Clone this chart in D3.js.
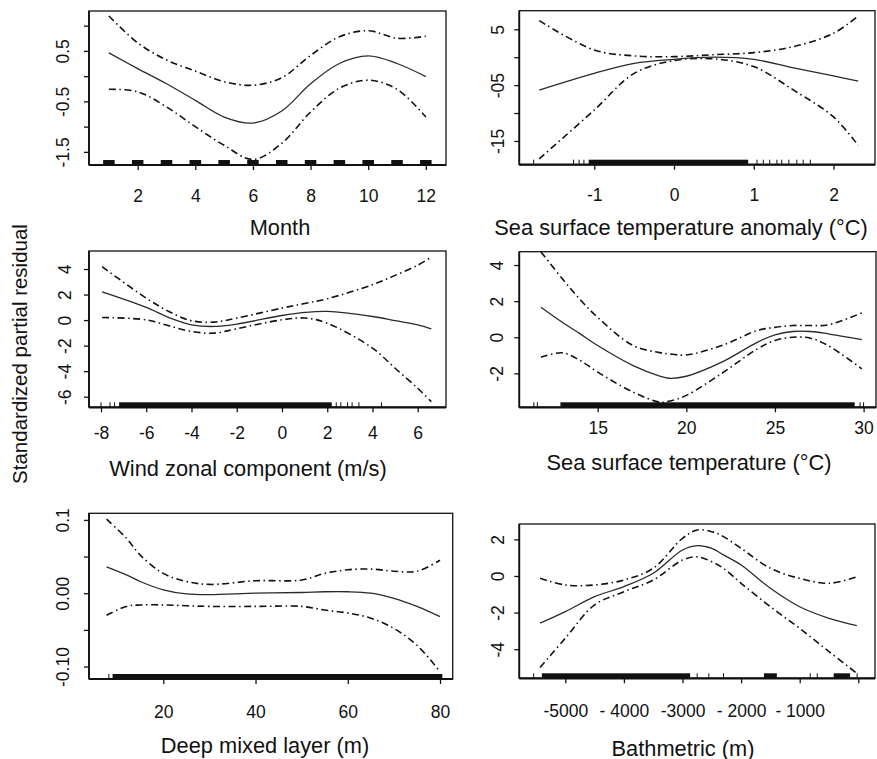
<!DOCTYPE html>
<html>
<head>
<meta charset="utf-8">
<script src="https://cdn.jsdelivr.net/npm/d3@7"></script>
<style>
  html, body { margin: 0; padding: 0; background: #fff; }
  svg { display: block; font-family: "Liberation Sans", Arial, Helvetica, sans-serif; }
</style>
</head>
<body>
<svg id="chart" width="877" height="759"></svg>
<script>
// ---- Month ----
const monthX     = [1, 2, 3, 4, 5, 6, 7, 8, 9, 10, 11, 12];
const monthFit   = [0.46, 0.15, -0.15, -0.48, -0.81, -0.93, -0.69, -0.15, 0.25, 0.40, 0.25, -0.01];
const monthUpper = [1.19, 0.66, 0.32, 0.10, -0.11, -0.18, -0.03, 0.41, 0.78, 0.90, 0.75, 0.79];
const monthLower = [-0.26, -0.31, -0.61, -1.00, -1.37, -1.65, -1.33, -0.71, -0.24, -0.08, -0.26, -0.81];
const monthRugBlocks = [1, 2, 3, 4, 5, 6, 7, 8, 9, 10, 11, 12];
const monthXTicks = [2, 4, 6, 8, 10, 12];
const monthYTicks = [1.0, 0.5, 0.0, -0.5, -1.0, -1.5];
const monthYLabels = { "0.5": "0.5", "-0.5": "-0.5", "-1.5": "-1.5" };

// ---- Sea surface temperature anomaly ----
const sstaX     = [-1.69, -1.0, -0.5, 0, 0.5, 1.0, 1.5, 2.0, 2.31];
const sstaFit   = [-5.88, -2.89, -1.10, -0.38, 0.00, -0.38, -1.90, -3.35, -4.27];
const sstaUpper = [6.54, 1.29, 0.24, 0.10, 0.45, 0.82, 1.90, 4.28, 7.38];
const sstaLower = [-18.2, -9.46, -2.90, -0.60, -0.30, -1.68, -5.90, -10.7, -15.8];
const sstaRugBands = [[-1.07, 0.93]];
const sstaRugTicks = [-1.76, -1.26, -1.19, -1.13, 1.04, 1.12, 1.20, 1.29, 1.35, 1.44, 1.54, 1.62, 1.71];
const sstaXTicks = [-1, 0, 1, 2];
const sstaYTicks = [5, 0, -5, -10, -15];
const sstaYLabels = { "5": "5", "-5": "-05", "-15": "-15" };

// ---- Wind zonal component ----
const windX     = [-7.95, -6, -5, -4, -3, -2, 0, 1, 2, 4, 5, 6, 6.6];
const windFit   = [2.20, 0.99, 0.20, -0.37, -0.50, -0.31, 0.36, 0.60, 0.68, 0.28, -0.05, -0.37, -0.68];
const windUpper = [4.18, 1.72, 0.67, -0.05, -0.16, 0.16, 0.94, 1.30, 1.67, 2.77, 3.50, 4.30, 4.93];
const windLower = [0.20, 0.02, -0.45, -0.89, -1.02, -0.68, 0.02, 0.16, -0.24, -2.20, -3.77, -5.34, -6.39];
const windRugBands = [[-7.2, 2.2]];
const windRugTicks = [-8.0, -7.6, -7.4, 2.4, 2.6, 2.9, 3.1, 3.4, 4.4];
const windXTicks = [-8, -6, -4, -2, 0, 2, 4, 6];
const windYTicks = [4, 2, 0, -2, -4, -6];
const windYLabels = { "4": "4", "2": "2", "0": "0", "-2": "-2", "-4": "-4", "-6": "-6" };

// ---- Sea surface temperature ----
const sstX     = [11.8, 13, 14, 15, 17, 18.5, 19, 20, 22, 24, 25, 26, 27, 28, 29.9];
const sstFit   = [1.66, 0.83, 0.20, -0.46, -1.57, -2.15, -2.27, -2.16, -1.38, -0.28, 0.13, 0.32, 0.32, 0.19, -0.13];
const sstUpper = [4.73, 3.25, 2.10, 1.10, -0.46, -0.85, -0.92, -0.98, -0.46, 0.37, 0.55, 0.65, 0.65, 0.69, 1.35];
const sstLower = [-1.11, -0.86, -1.28, -1.93, -3.04, -3.60, -3.55, -3.22, -2.00, -0.65, -0.18, 0.00, -0.05, -0.46, -1.75];
const sstRugBands = [[12.9, 29.5]];
const sstRugTicks = [11.4, 11.6, 29.8, 30.0];
const sstXTicks = [15, 20, 25, 30];
const sstYTicks = [4, 2, 0, -2];
const sstYLabels = { "4": "4", "2": "2", "0": "0", "-2": "-2" };

// ---- Deep mixed layer ----
const mldX     = [7.7, 12, 15, 20, 25, 30, 40, 50, 55, 60, 65, 70, 75, 80];
const mldFit   = [0.036, 0.025, 0.016, 0.0045, -0.001, -0.002, 0.000, 0.001, 0.002, 0.002, 0.000, -0.007, -0.018, -0.032];
const mldUpper = [0.101, 0.075, 0.052, 0.027, 0.016, 0.012, 0.017, 0.018, 0.027, 0.032, 0.033, 0.030, 0.030, 0.045];
const mldLower = [-0.030, -0.018, -0.016, -0.016, -0.017, -0.018, -0.018, -0.018, -0.023, -0.027, -0.034, -0.048, -0.071, -0.107];
const mldRugBands = [[9, 80.5]];
const mldRugTicks = [8.2];
const mldXTicks = [20, 40, 60, 80];
const mldYTicks = [0.1, 0.05, 0, -0.05, -0.1];
const mldYLabels = { "0.1": "0.1", "0": "0.00", "-0.1": "-0.10" };

// ---- Bathymetry ----
const bathX     = [-5430, -5000, -4500, -4000, -3500, -3000, -2750, -2500, -2300, -2000, -1500, -1000, -500, -25];
const bathFit   = [-2.58, -1.95, -1.13, -0.58, 0.15, 1.42, 1.66, 1.51, 1.15, 0.60, -0.67, -1.68, -2.31, -2.71];
const bathUpper = [-0.13, -0.49, -0.49, -0.22, 0.42, 2.06, 2.51, 2.42, 2.15, 1.51, 0.42, -0.13, -0.40, -0.04];
const bathLower = [-5.00, -3.40, -1.58, -0.86, -0.22, 0.87, 1.05, 0.78, 0.42, -0.40, -1.68, -2.86, -4.13, -5.32];
const bathRugBands = [[-5400, -2870], [-1610, -1390], [-420, -140]];
const bathRugTicks = [-5540, -2750, -2550, -2300, -820, -700, -20];
const bathXTicks = [-5000, -4000, -3000, -2000, -1000, 0];
const bathXLabels = { "-5000": "-5000", "-4000": "- 4000", "-3000": "-3000", "-2000": "- 2000", "-1000": "- 1000", "0": "" };
const bathYTicks = [2, 0, -2, -4];
const bathYLabels = { "2": "2", "0": "0", "-2": "-2", "-4": "-4" };

const yTitle = "Standardized partial residual";

// Panel layout: plot box, axis domains, label offsets
const panels = [
  { box: [89, 11, 446, 165], xDom: [0.31, 12.70], yDom: [-1.76, 1.29],
    x: monthX, fit: monthFit, up: monthUpper, lo: monthLower,
    rugBlocks: monthRugBlocks, blockHalf: 0.2, rugBands: [], rugTicks: [],
    xTicks: monthXTicks, xLab: d => String(d), yTicks: monthYTicks, yLab: monthYLabels,
    xLabOff: 31, yLabOff: 26, title: "Month", titleX: 280, titleY: 227 },
  { box: [519.3, 10.7, 875, 164.7], xDom: [-1.94, 2.52], yDom: [-19.25, 8.33],
    x: sstaX, fit: sstaFit, up: sstaUpper, lo: sstaLower,
    rugBlocks: [], rugBands: sstaRugBands, rugTicks: sstaRugTicks,
    xTicks: sstaXTicks, xLab: d => String(d), yTicks: sstaYTicks, yLab: sstaYLabels,
    xLabOff: 30, yLabOff: 21, title: "Sea surface temperature anomaly (°C)", titleX: 681, titleY: 227 },
  { box: [89, 251, 446, 407.3], xDom: [-8.53, 7.25], yDom: [-6.83, 5.41],
    x: windX, fit: windFit, up: windUpper, lo: windLower,
    rugBlocks: [], rugBands: windRugBands, rugTicks: windRugTicks,
    xTicks: windXTicks, xLab: d => String(d), yTicks: windYTicks, yLab: windYLabels,
    xLabOff: 26, yLabOff: 24, title: "Wind zonal component (m/s)", titleX: 248, titleY: 468 },
  { box: [519.3, 251.7, 876, 407.3], xDom: [10.58, 30.7], yDom: [-3.88, 4.74],
    x: sstX, fit: sstFit, up: sstUpper, lo: sstLower,
    rugBlocks: [], rugBands: sstRugBands, rugTicks: sstRugTicks,
    xTicks: sstXTicks, xLab: d => String(d), yTicks: sstYTicks, yLab: sstYLabels,
    xLabOff: 21, yLabOff: 22, title: "Sea surface temperature (°C)", titleX: 689, titleY: 462 },
  { box: [89, 513.3, 452.7, 679], xDom: [3.89, 82.75], yDom: [-0.117, 0.109],
    x: mldX, fit: mldFit, up: mldUpper, lo: mldLower,
    rugBlocks: [], rugBands: mldRugBands, rugTicks: mldRugTicks,
    xTicks: mldXTicks, xLab: d => String(d), yTicks: mldYTicks, yLab: mldYLabels,
    xLabOff: 33, yLabOff: 26, title: "Deep mixed layer (m)", titleX: 265, titleY: 745 },
  { box: [519.3, 524, 875, 678.3], xDom: [-5785, 285], yDom: [-5.59, 2.84],
    x: bathX, fit: bathFit, up: bathUpper, lo: bathLower,
    rugBlocks: [], rugBands: bathRugBands, rugTicks: bathRugTicks,
    xTicks: bathXTicks, xLab: d => bathXLabels[String(d)], yTicks: bathYTicks, yLab: bathYLabels,
    xLabOff: 33, yLabOff: 21, title: "Bathmetric (m)", titleX: 683, titleY: 748 }
];

const svg = d3.select("#chart");
const ink = "#111";
const tickFont = 17.5, titleFont = 21.8;

panels.forEach((p, i) => {
  const [x0, y0, x1, y1] = p.box;
  const xs = d3.scaleLinear().domain(p.xDom).range([x0, x1]);
  const ys = d3.scaleLinear().domain(p.yDom).range([y1, y0]);
  const g = svg.append("g").attr("class", "panel-" + i);

  const clipId = "clip" + i;
  svg.append("clipPath").attr("id", clipId)
    .append("rect").attr("x", x0).attr("y", y0).attr("width", x1 - x0).attr("height", y1 - y0);

  // frame
  g.append("rect").attr("x", x0).attr("y", y0).attr("width", x1 - x0).attr("height", y1 - y0)
    .attr("fill", "none").attr("stroke", ink).attr("stroke-width", 1.3);

  // rug along the bottom axis
  const rug = g.append("g").attr("fill", ink).attr("stroke", ink);
  p.rugBlocks.forEach(m => {
    rug.append("rect")
      .attr("x", xs(m - p.blockHalf)).attr("y", y1 - 5)
      .attr("width", xs(m + p.blockHalf) - xs(m - p.blockHalf)).attr("height", 5)
      .attr("stroke", "none");
  });
  p.rugBands.forEach(([a, b]) => {
    rug.append("rect")
      .attr("x", xs(a)).attr("y", y1 - 5)
      .attr("width", xs(b) - xs(a)).attr("height", 5).attr("stroke", "none");
  });
  p.rugTicks.forEach(v => {
    rug.append("line").attr("x1", xs(v)).attr("x2", xs(v))
      .attr("y1", y1).attr("y2", y1 - 5).attr("stroke-width", 1);
  });

  // bottom axis
  const xAxis = d3.axisBottom(xs).tickValues(p.xTicks).tickFormat(p.xLab)
    .tickSizeInner(5).tickSizeOuter(0).tickPadding(p.xLabOff - 11.3);
  const gx = g.append("g").attr("transform", `translate(0,${y1})`).call(xAxis);
  gx.select(".domain").remove();
  gx.selectAll(".tick line").attr("stroke", ink).attr("stroke-width", 1.3);
  gx.selectAll(".tick text").attr("fill", ink).attr("font-size", tickFont)
    .attr("font-family", "Liberation Sans, Arial, sans-serif");
  g.append("line").attr("x1", x0).attr("x2", x1).attr("y1", y1).attr("y2", y1)
    .attr("stroke", ink).attr("stroke-width", 2.2);

  // left axis with rotated labels
  const yAxis = d3.axisLeft(ys).tickValues(p.yTicks).tickFormat(d => p.yLab[String(d)] || "")
    .tickSizeInner(5).tickSizeOuter(0);
  const gy = g.append("g").attr("transform", `translate(${x0},0)`).call(yAxis);
  gy.select(".domain").remove();
  gy.selectAll(".tick line").attr("stroke", ink).attr("stroke-width", 1.3);
  gy.selectAll(".tick text")
    .attr("x", null).attr("dy", null)
    .attr("transform", `translate(${-p.yLabOff},0) rotate(-90)`)
    .attr("text-anchor", "middle").attr("dominant-baseline", "central")
    .attr("fill", ink).attr("font-size", tickFont)
    .attr("font-family", "Liberation Sans, Arial, sans-serif");
  g.append("line").attr("x1", x0).attr("x2", x0).attr("y1", y0).attr("y2", y1)
    .attr("stroke", ink).attr("stroke-width", 1.8);

  // smooth term and its confidence band
  const curves = g.append("g").attr("clip-path", `url(#${clipId})`).attr("fill", "none");
  const line = ys2 => d3.line().x((d, k) => xs(p.x[k])).y(d => ys(d)).curve(d3.curveCatmullRom.alpha(0.5))(ys2);
  curves.append("path").attr("d", line(p.up))
    .attr("stroke", ink).attr("stroke-width", 1.6).attr("stroke-dasharray", "7,3.5,1.5,3.5");
  curves.append("path").attr("d", line(p.lo))
    .attr("stroke", ink).attr("stroke-width", 1.6).attr("stroke-dasharray", "7,3.5,1.5,3.5");
  curves.append("path").attr("d", line(p.fit))
    .attr("stroke", "#2a2a2a").attr("stroke-width", 1.3);

  // axis title
  g.append("text").attr("x", p.titleX).attr("y", p.titleY)
    .attr("text-anchor", "middle").attr("dominant-baseline", "central")
    .attr("font-size", titleFont).attr("fill", ink).text(p.title);
});

// shared y title
svg.append("text")
  .attr("transform", "translate(19.5,354) rotate(-90)")
  .attr("text-anchor", "middle").attr("dominant-baseline", "central")
  .attr("font-size", 20.5).attr("fill", ink).text(yTitle);
</script>
</body>
</html>
